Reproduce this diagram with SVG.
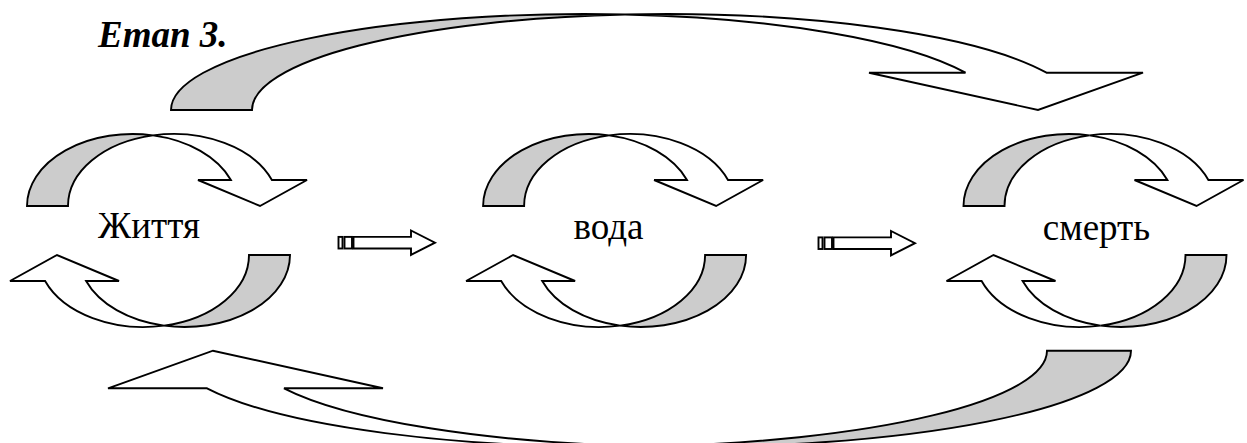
<svg xmlns="http://www.w3.org/2000/svg" xmlns:xlink="http://www.w3.org/1999/xlink" width="1247" height="443" viewBox="0 0 1247 443">
<style>
.g{fill:#cccccc;stroke:#000;stroke-width:1.9;stroke-linejoin:miter}
.w{fill:#fff;stroke:#000;stroke-width:1.9;stroke-linejoin:miter}
.lbl{font-family:"Liberation Serif","Times New Roman",serif;font-size:37px;fill:#000;text-anchor:middle}
.title{font-family:"Liberation Serif","Times New Roman",serif;font-size:37px;font-weight:bold;font-style:italic;fill:#000}
</style>
<defs>
<g id="half">
<path class="g" d="M -131.5,-24.5 A 105.5 72 0 0 1 -5.5,-95.13 A 105.5 72 0 0 0 -90.5,-24.5 Z"/>
<path class="w" d="M -5.5,-95.13 A 105.5 72 0 0 1 113.4,-50.5 L 148.5,-50.5 L 101.5,-24.5 L 39.5,-50.5 L 72.4,-50.5 A 105.5 72 0 0 0 -5.5,-95.13 Z"/>
</g>
<g id="cycle">
<use xlink:href="#half"/>
<use xlink:href="#half" transform="rotate(180)"/>
</g>
<g id="striped">
<rect class="w" x="0" y="-5.8" width="4" height="11.6"/>
<rect class="w" x="6" y="-5.8" width="7.5" height="11.6"/>
<path class="w" d="M 15,-5.8 L 72.5,-5.8 L 72.5,-12.2 L 96.5,0 L 72.5,12.2 L 72.5,5.8 L 15,5.8 Z"/>
</g>
</defs>
<text class="title" x="98" y="47">Етап 3.</text>
<g id="connectors">
<g id="top-arrow">
<path class="g" d="M 171,110 A 413.5 96 0 0 1 625,14.46 A 413.5 96 0 0 0 252,110 Z"/>
<path class="w" d="M 625,14.46 A 413.5 96 0 0 1 1046.5,72.7 L 1143,72.7 L 1038,110 L 869,72.7 L 965.5,72.7 A 413.5 96 0 0 0 625,14.46 Z"/>
</g>
<g id="bottom-arrow">
<path class="g" d="M 1131,350.7 A 441.1 96 0 0 1 649.5,446.3 A 437.5 96 0 0 0 1047,350.7 Z"/>
<path class="w" d="M 649.5,446.3 A 437.5 96 0 0 1 207,388.3 L 108,388.3 L 213,350.7 L 383,388.3 L 284,388.3 A 441.1 96 0 0 0 649.5,446.3 Z"/>
</g>
<use id="arrow-1" xlink:href="#striped" transform="translate(338.5,242.7)"/>
<use id="arrow-2" xlink:href="#striped" transform="translate(818.5,243.2)"/>
</g>
<g id="node-zhyttia">
<use xlink:href="#cycle" transform="translate(158.5,230.5)"/>
<text class="lbl" x="149" y="238">Життя</text>
</g>
<g id="node-voda">
<use xlink:href="#cycle" transform="translate(614.6,230.5)"/>
<text class="lbl" x="608.5" y="239">вода</text>
</g>
<g id="node-smert">
<use xlink:href="#cycle" transform="translate(1095,230.5)"/>
<text class="lbl" x="1096.5" y="240">смерть</text>
</g>
</svg>
